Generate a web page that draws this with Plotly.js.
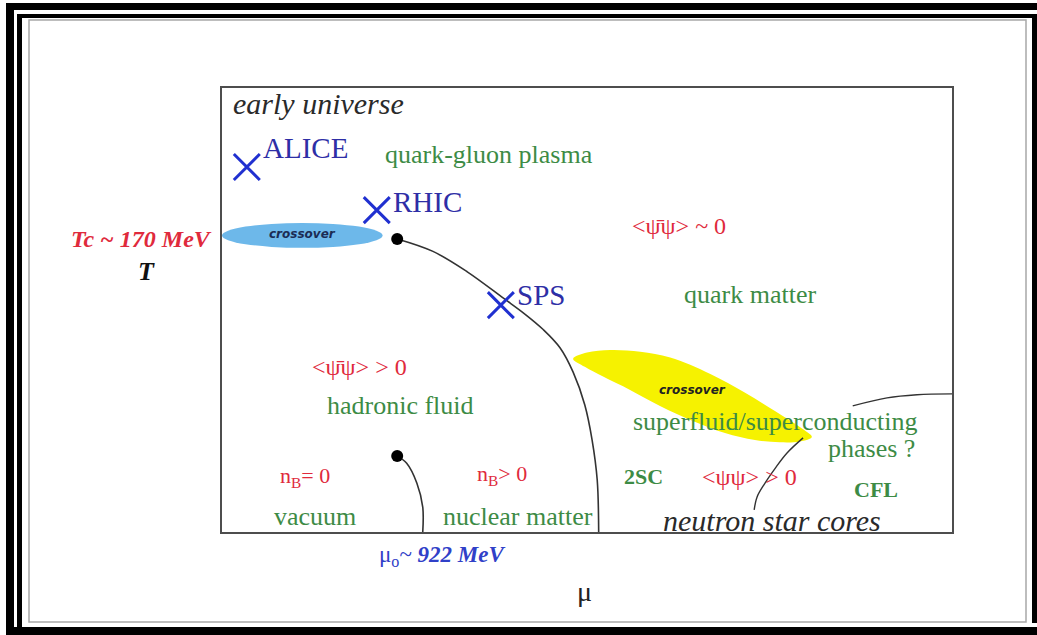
<!DOCTYPE html>
<html>
<head>
<meta charset="utf-8">
<script src="https://cdn.plot.ly/plotly-3.0.1.min.js"></script>
<style>html,body{margin:0;padding:0;background:#fff;}#chart{width:1037px;height:635px;}</style>
</head>
<body>
<div id="chart"></div>
<script>
// ---- data (μ on x, T on y, both in arbitrary 0-100 diagram units) ----
const experimentNames = ['ALICE', 'RHIC', 'SPS'];
const experimentMu = [3.4, 21.2, 38.2];
const experimentT = [82.2, 72.5, 51.1];

const criticalPointMu = [24.0, 24.0];
const criticalPointT = [66.0, 17.1];

const phaseLineMu = [24.0, 28.9, 33.6, 38.6, 41.4, 44.0, 46.3, 48.1, 49.7, 50.7, 51.4, 51.6];
const phaseLineT  = [66.0, 63.2, 58.6, 52.6, 49.2, 45.6, 41.5, 36.0, 28.6, 20.7, 11.7, 0.0];

const nuclearLineMu = [24.0, 25.3, 26.7, 27.5, 27.5];
const nuclearLineT  = [17.1, 15.5, 11.0, 5.6, 0.0];

const cflLineMu = [100.0, 95.2, 91.1, 86.4];
const cflLineT  = [31.1, 30.9, 30.2, 28.4];

const starLineMu = [79.6, 77.4, 75.8, 74.3, 73.3, 72.9];
const starLineT  = [21.2, 17.8, 14.4, 10.8, 7.9, 5.0];

const yellowMu = [48.1, 50.0, 53.2, 57.3, 61.4, 66.9, 71.6, 75.8, 79.2, 80.8, 79.2, 76.4, 73.0, 68.9, 64.5, 60.0, 55.9, 52.2, 49.7, 48.1];
const yellowT  = [39.0, 40.4, 41.0, 40.6, 39.3, 35.6, 31.4, 27.2, 23.6, 21.4, 20.4, 20.2, 20.7, 22.3, 25.0, 28.4, 32.0, 35.0, 37.2, 39.0];

const blueCrossoverMu = [0.0, 22.0];
const blueCrossoverT = [64.0, 69.6];

const greenLabels = ['quark-gluon plasma', 'quark matter', 'hadronic fluid', 'vacuum', 'nuclear matter', 'superfluid/superconducting', 'phases ?'];
const greenMu = [36.6, 72.3, 24.4, 12.7, 40.5, 75.8, 89.0];
const greenT  = [85.0, 53.6, 28.6, 3.4, 3.4, 24.8, 18.9];

const greenBoldLabels = ['2SC', 'CFL'];
const greenBoldMu = [57.8, 89.6];
const greenBoldT = [12.4, 9.5];

const redLabels = ['<\u03C8\u0304\u03C8> ~ 0', '<\u03C8\u0304\u03C8> > 0', 'n<sub>B</sub>= 0', 'n<sub>B</sub>> 0', '<\u03C8\u03C8> > 0'];
const redMu = [62.6, 18.9, 11.4, 38.4, 72.3];
const redT  = [68.9, 37.2, 12.4, 12.8, 12.4];

const italicLabels = ['early universe', 'neutron star cores'];
const italicMu = [1.3, 75.3];
const italicT = [96.4, 2.7];
const italicAnchor = ['left', 'center'];

const crossoverLabelMu = [11.0, 64.4];
const crossoverLabelT = [67.1, 32.0];

// labels outside the diagram box (same μ/T units, placed beyond the axis range)
const outsideLabels = ['<b><i>Tc ~ 170 MeV</i></b>', '<b><i>T</i></b>', '\u03BC<sub>o</sub>~ <b><i>922 MeV</i></b>', '\u03BC'];
const outsideMu = [-11.0, -10.3, 30.2, 49.7];
const outsideT = [66.0, 58.6, -5.4, -13.5];

// ---- styling ----
const SERIF = 'Liberation Serif, Times New Roman, serif';
const GREEN = '#3d8b45';
const RED = '#e02a3c';
const NAVY = '#2e2ea6';
const CROSS = '#2030d0';
const outsideFonts = [
  {family: SERIF, size: 24, color: RED},
  {family: SERIF, size: 26, color: '#111'},
  {family: SERIF, size: 23, color: '#3040c8'},
  {family: SERIF, size: 28, color: '#222'}
];
const redSizes = [24, 24, 22, 22, 24];

const traces = [
  {x: yellowMu, y: yellowT, type: 'scatter', mode: 'lines', fill: 'toself',
   fillcolor: '#f6f200', line: {width: 0, shape: 'spline', color: '#f6f200'}, hoverinfo: 'skip'},
  {x: phaseLineMu, y: phaseLineT, type: 'scatter', mode: 'lines',
   line: {color: '#333', width: 1.6, shape: 'spline'}, hoverinfo: 'skip'},
  {x: nuclearLineMu, y: nuclearLineT, type: 'scatter', mode: 'lines',
   line: {color: '#333', width: 1.6, shape: 'spline'}, hoverinfo: 'skip'},
  {x: cflLineMu, y: cflLineT, type: 'scatter', mode: 'lines',
   line: {color: '#333', width: 1.4, shape: 'spline'}, hoverinfo: 'skip'},
  {x: starLineMu, y: starLineT, type: 'scatter', mode: 'lines',
   line: {color: '#333', width: 1.4, shape: 'spline'}, hoverinfo: 'skip'},
  {x: criticalPointMu, y: criticalPointT, type: 'scatter', mode: 'markers',
   marker: {color: '#000', size: 12}, hoverinfo: 'skip'},
  {x: experimentMu, y: experimentT, type: 'scatter', mode: 'markers',
   marker: {symbol: 'x-thin', size: 26, line: {color: CROSS, width: 3}}, text: experimentNames, hoverinfo: 'text'}
];

const annotations = [];
function addText(text, x, y, font, xanchor, ref) {
  const paper = ref === 'paper';
  annotations.push({text: text, x: paper ? x / 100 : x, y: paper ? y / 100 : y,
    xref: paper ? 'paper' : 'x', yref: paper ? 'paper' : 'y', showarrow: false,
    xanchor: xanchor || 'center', yanchor: 'middle', font: font});
}
experimentNames.forEach((n, i) => addText(n, experimentMu[i] + 2.0, experimentT[i] + [4.2, 1.8, 2.3][i],
  {family: SERIF, size: 29, color: NAVY}, 'left'));
greenLabels.forEach((t, i) => addText(t, greenMu[i], greenT[i], {family: SERIF, size: 26, color: GREEN}));
greenBoldLabels.forEach((t, i) => addText('<b>' + t + '</b>', greenBoldMu[i], greenBoldT[i], {family: SERIF, size: 22, color: GREEN}));
redLabels.forEach((t, i) => addText(t, redMu[i], redT[i], {family: SERIF, size: redSizes[i], color: RED}));
italicLabels.forEach((t, i) => addText('<i>' + t + '</i>', italicMu[i], italicT[i], {family: SERIF, size: 30, color: '#2a2a2a'}, italicAnchor[i]));
crossoverLabelMu.forEach((m, i) => addText('<b><i>crossover</i></b>', m, crossoverLabelT[i],
  {family: 'DejaVu Sans, sans-serif', size: 12, color: i === 0 ? '#1b2c55' : '#222'}));
outsideLabels.forEach((t, i) => addText(t, outsideMu[i], outsideT[i], outsideFonts[i], 'center', 'paper'));

// frame decorations (pixel -> paper helper)
const PL = 222, PT = 88, PW = 730, PH = 444;
const px = v => (v - PL) / PW;
const py = v => (PT + PH - v) / PH;
function rect(x0, y0, x1, y1, fill, line) {
  return {type: 'rect', xref: 'paper', yref: 'paper', x0: px(x0), x1: px(x1), y0: py(y1), y1: py(y0),
    fillcolor: fill || 'rgba(0,0,0,0)', line: line || {width: 0}, layer: 'above'};
}
const shapes = [
  {type: 'circle', xref: 'x', yref: 'y', x0: blueCrossoverMu[0], x1: blueCrossoverMu[1],
   y0: blueCrossoverT[0], y1: blueCrossoverT[1], fillcolor: '#6db8ea', line: {width: 0}, layer: 'below'},
  rect(6, 3, 14, 640, '#000'),
  rect(6, 3, 1040, 10, '#000'),
  rect(6, 627, 1040, 640, '#000'),
  rect(17, 14, 22, 628, '#000'),
  rect(17, 14, 1040, 18, '#000'),
  rect(1032, 14, 1040, 623, '#000'),
  rect(29, 20, 1026, 622, null, {color: '#a8a8a8', width: 1.5})
];

const layout = {
  width: 1037, height: 635,
  margin: {l: PL, r: 1037 - PL - PW, t: PT, b: 635 - PT - PH, pad: 0},
  paper_bgcolor: '#fff', plot_bgcolor: '#fff', showlegend: false,
  xaxis: {range: [0, 100], showgrid: false, zeroline: false, showticklabels: false, ticks: '',
    showline: true, mirror: true, linecolor: '#4d4d4d', linewidth: 2, fixedrange: true},
  yaxis: {range: [0, 100], showgrid: false, zeroline: false, showticklabels: false, ticks: '',
    showline: true, mirror: true, linecolor: '#4d4d4d', linewidth: 2, fixedrange: true},
  annotations: annotations,
  shapes: shapes
};
Plotly.newPlot('chart', traces, layout, {displayModeBar: false, staticPlot: true});
</script>
</body>
</html>
